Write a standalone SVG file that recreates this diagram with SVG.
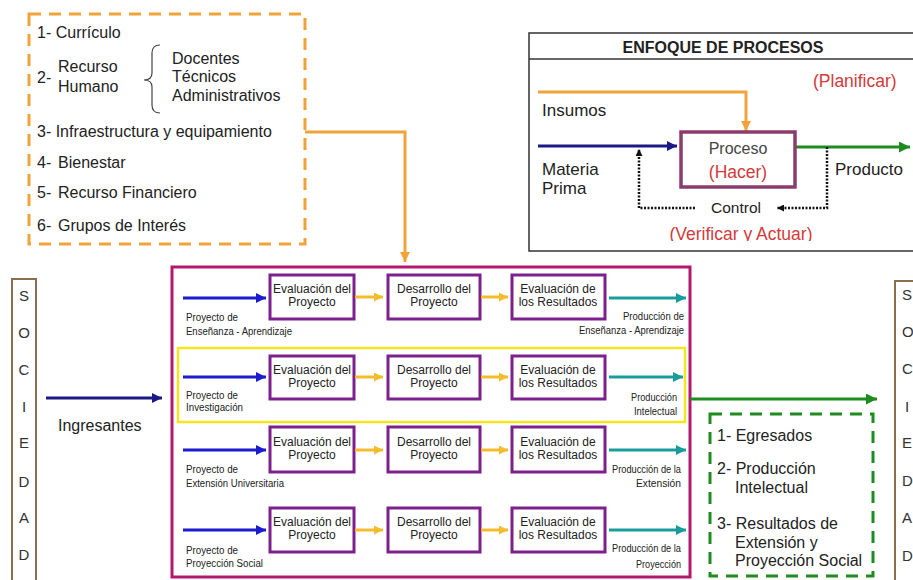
<svg xmlns="http://www.w3.org/2000/svg" width="913" height="580" viewBox="0 0 913 580">
<defs>
<style>
text{font-family:"Liberation Sans",Arial,sans-serif;fill:#222}
.l16{font-size:16px}
.l17{font-size:17px}
.red{fill:#D23A3A;font-size:17.5px}
.bx{font-size:12px;text-anchor:middle}
.sm{font-size:10px}
.smr{font-size:10px;text-anchor:end}
.let{font-size:15px;fill:#333}
.pbox{fill:#fff;stroke:#7E1F8E;stroke-width:3}
.ln{fill:none;stroke-width:3}
.dot{fill:none;stroke:#111;stroke-width:2.5;stroke-dasharray:2 1.5}
</style>
<marker id="mOr" viewBox="0 0 10 10" refX="10" refY="5" markerWidth="10" markerHeight="11" markerUnits="userSpaceOnUse" orient="auto"><path d="M0,0 L10,5 L0,10 z" fill="#F2A23A"/></marker>
<marker id="mGold" viewBox="0 0 10 10" refX="10" refY="5" markerWidth="9" markerHeight="9" markerUnits="userSpaceOnUse" orient="auto"><path d="M0,0 L10,5 L0,10 z" fill="#F4BC2C"/></marker>
<marker id="mBlue" viewBox="0 0 10 10" refX="10" refY="5" markerWidth="10" markerHeight="10" markerUnits="userSpaceOnUse" orient="auto"><path d="M0,0 L10,5 L0,10 z" fill="#1B1BD0"/></marker>
<marker id="mNavy" viewBox="0 0 10 10" refX="10" refY="5" markerWidth="10" markerHeight="10" markerUnits="userSpaceOnUse" orient="auto"><path d="M0,0 L10,5 L0,10 z" fill="#1A1A86"/></marker>
<marker id="mTeal" viewBox="0 0 10 10" refX="10" refY="5" markerWidth="10" markerHeight="10" markerUnits="userSpaceOnUse" orient="auto"><path d="M0,0 L10,5 L0,10 z" fill="#1A9C9C"/></marker>
<marker id="mGreen" viewBox="0 0 10 10" refX="10" refY="5" markerWidth="11" markerHeight="11" markerUnits="userSpaceOnUse" orient="auto"><path d="M0,0 L10,5 L0,10 z" fill="#1E8C1E"/></marker>
<marker id="mBlk" viewBox="0 0 10 10" refX="10" refY="5" markerWidth="7" markerHeight="7" markerUnits="userSpaceOnUse" orient="auto"><path d="M0,0 L10,5 L0,10 z" fill="#111"/></marker>
<clipPath id="clipV"><rect x="600" y="220" width="300" height="21"/></clipPath>
</defs>
<rect width="913" height="580" fill="#fff"/>

<!-- Recursos (insumos) box -->
<g id="insumos">
<rect x="29" y="14" width="276" height="230" fill="none" stroke="#F2A23A" stroke-width="3" stroke-dasharray="12 8"/>
<text class="l16" x="37" y="38">1- Currículo</text>
<text class="l16" x="37" y="83">2-</text>
<text class="l16" x="58" y="72">Recurso</text>
<text class="l16" x="58" y="92">Humano</text>
<path d="M160,45 Q152,45 152,53 L152,73 Q152,80 144,80 Q152,80 152,87 L152,105 Q152,113 160,113" fill="none" stroke="#444" stroke-width="1.2"/>
<text class="l16" x="172" y="64">Docentes</text>
<text class="l16" x="172" y="82">Técnicos</text>
<text class="l16" x="172" y="101">Administrativos</text>
<text class="l16" x="37" y="137">3- Infraestructura y equipamiento</text>
<text class="l16" x="37" y="168">4-<tspan x="58">Bienestar</tspan></text>
<text class="l16" x="37" y="198">5-<tspan x="58">Recurso Financiero</tspan></text>
<text class="l16" x="37" y="231">6-<tspan x="58">Grupos de Interés</tspan></text>
</g>

<!-- Enfoque de procesos -->
<g id="enfoque">
<rect x="529" y="33" width="392" height="218" fill="#fff" stroke="#333" stroke-width="1.5"/>
<line x1="529" y1="59" x2="913" y2="59" stroke="#333" stroke-width="1.5"/>
<text x="723" y="53" text-anchor="middle" style="font-size:16px;font-weight:bold">ENFOQUE DE PROCESOS</text>
<text class="red" x="813" y="87">(Planificar)</text>
<text class="l17" x="542" y="116">Insumos</text>
<text class="l17" x="542" y="175">Materia</text>
<text class="l17" x="542" y="194">Prima</text>
<text class="l17" x="835" y="175">Producto</text>
<path d="M538,92 L746,92 L746,131" class="ln" stroke="#F2A23A" marker-end="url(#mOr)"/>
<path d="M538,146 L677,146" class="ln" stroke="#1A1A86" marker-end="url(#mNavy)"/>
<path d="M795,147 L910,147" class="ln" stroke="#1E8C1E" marker-end="url(#mGreen)"/>
<rect x="681" y="132" width="114" height="55" fill="#fff" stroke="#8A3C6C" stroke-width="3.5"/>
<text x="738" y="154" text-anchor="middle" style="fill:#444;font-size:16px">Proceso</text>
<text class="red" x="738" y="178" text-anchor="middle">(Hacer)</text>
<path d="M827,147 L827,208 L777,208" class="dot" marker-end="url(#mBlk)"/>
<path d="M695,208 L639,208 L639,149" class="dot" marker-end="url(#mBlk)"/>
<text x="736" y="213" text-anchor="middle" style="font-size:15.5px">Control</text>
<text class="red" x="741" y="240" text-anchor="middle" clip-path="url(#clipV)">(Verificar y Actuar)</text>
</g>

<!-- Sociedad left -->
<g id="sociedad-izq">
<rect x="12" y="279" width="24" height="310" fill="none" stroke="#8B6E4E" stroke-width="2"/>
<g text-anchor="middle">
<text class="let" x="24" y="301">S</text>
<text class="let" x="24" y="338">O</text>
<text class="let" x="24" y="375">C</text>
<text class="let" x="24" y="412">I</text>
<text class="let" x="24" y="448">E</text>
<text class="let" x="24" y="487">D</text>
<text class="let" x="24" y="523">A</text>
<text class="let" x="24" y="560">D</text>
</g>
</g>

<!-- Sociedad right -->
<g id="sociedad-der">
<rect x="895" y="281" width="30" height="310" fill="none" stroke="#8B6E4E" stroke-width="2"/>
<text class="let" x="902" y="300">S</text>
<text class="let" x="902" y="337">O</text>
<text class="let" x="902" y="374">C</text>
<text class="let" x="905" y="412">I</text>
<text class="let" x="902" y="448">E</text>
<text class="let" x="902" y="486">D</text>
<text class="let" x="902" y="523">A</text>
<text class="let" x="902" y="561">D</text>
</g>

<!-- Central process box -->
<g id="universidad">
<rect x="172" y="267" width="518" height="310" fill="#fff" stroke="#B3186C" stroke-width="3"/>
<rect x="178" y="348" width="507" height="74" fill="none" stroke="#F4E51E" stroke-width="2.5"/>
</g>

<g id="fila1">
<rect class="pbox" x="270" y="275" width="84" height="44"/>
<text class="bx" x="312" y="293">Evaluación del</text><text class="bx" x="312" y="306">Proyecto</text>
<rect class="pbox" x="388" y="275" width="92" height="44"/>
<text class="bx" x="434" y="293">Desarrollo del</text><text class="bx" x="434" y="306">Proyecto</text>
<rect class="pbox" x="512" y="275" width="93" height="44"/>
<text class="bx" x="558" y="293">Evaluación de</text><text class="bx" x="558" y="306">los Resultados</text>
<text class="sm" x="186" y="321" textLength="52" lengthAdjust="spacingAndGlyphs">Proyecto de</text>
<text class="sm" x="186" y="335" textLength="106" lengthAdjust="spacingAndGlyphs">Enseñanza - Aprendizaje</text>
<text class="smr" x="684" y="320" textLength="61" lengthAdjust="spacingAndGlyphs">Producción de</text>
<text class="smr" x="684" y="334" textLength="105" lengthAdjust="spacingAndGlyphs">Enseñanza - Aprendizaje</text>
</g>

<g id="fila2">
<rect class="pbox" x="270" y="356" width="84" height="43"/>
<text class="bx" x="312" y="374">Evaluación del</text><text class="bx" x="312" y="387">Proyecto</text>
<rect class="pbox" x="388" y="356" width="92" height="43"/>
<text class="bx" x="434" y="374">Desarrollo del</text><text class="bx" x="434" y="387">Proyecto</text>
<rect class="pbox" x="512" y="356" width="93" height="43"/>
<text class="bx" x="558" y="374">Evaluación de</text><text class="bx" x="558" y="387">los Resultados</text>
<text class="sm" x="186" y="399" textLength="52" lengthAdjust="spacingAndGlyphs">Proyecto de</text>
<text class="sm" x="186" y="411" textLength="57" lengthAdjust="spacingAndGlyphs">Investigación</text>
<text class="smr" x="677" y="401" textLength="46" lengthAdjust="spacingAndGlyphs">Producción</text>
<text class="smr" x="677" y="415" textLength="43" lengthAdjust="spacingAndGlyphs">Intelectual</text>
</g>

<g id="fila3">
<rect class="pbox" x="270" y="427" width="84" height="45"/>
<text class="bx" x="312" y="446">Evaluación del</text><text class="bx" x="312" y="459">Proyecto</text>
<rect class="pbox" x="388" y="427" width="92" height="45"/>
<text class="bx" x="434" y="446">Desarrollo del</text><text class="bx" x="434" y="459">Proyecto</text>
<rect class="pbox" x="512" y="427" width="93" height="45"/>
<text class="bx" x="558" y="446">Evaluación de</text><text class="bx" x="558" y="459">los Resultados</text>
<text class="sm" x="186" y="473" textLength="52" lengthAdjust="spacingAndGlyphs">Proyecto de</text>
<text class="sm" x="186" y="487" textLength="98" lengthAdjust="spacingAndGlyphs">Extensión Universitaria</text>
<text class="smr" x="681" y="473" textLength="69" lengthAdjust="spacingAndGlyphs">Producción de la</text>
<text class="smr" x="681" y="487" textLength="45" lengthAdjust="spacingAndGlyphs">Extensión</text>
</g>

<g id="fila4">
<rect class="pbox" x="270" y="508" width="84" height="44"/>
<text class="bx" x="312" y="526">Evaluación del</text><text class="bx" x="312" y="539">Proyecto</text>
<rect class="pbox" x="388" y="508" width="92" height="44"/>
<text class="bx" x="434" y="526">Desarrollo del</text><text class="bx" x="434" y="539">Proyecto</text>
<rect class="pbox" x="512" y="508" width="93" height="44"/>
<text class="bx" x="558" y="526">Evaluación de</text><text class="bx" x="558" y="539">los Resultados</text>
<text class="sm" x="186" y="554" textLength="52" lengthAdjust="spacingAndGlyphs">Proyecto de</text>
<text class="sm" x="186" y="567" textLength="77" lengthAdjust="spacingAndGlyphs">Proyección Social</text>
<text class="smr" x="681" y="552" textLength="69" lengthAdjust="spacingAndGlyphs">Producción de la</text>
<text class="smr" x="681" y="568" textLength="45" lengthAdjust="spacingAndGlyphs">Proyección</text>
</g>

<!-- Resultados box -->
<g id="resultados">
<rect x="710" y="414" width="163" height="162" fill="none" stroke="#1E8C1E" stroke-width="3" stroke-dasharray="12 8"/>
<text class="l16" x="717" y="441">1- Egresados</text>
<text class="l16" x="717" y="474">2- Producción</text>
<text class="l16" x="735" y="493">Intelectual</text>
<text class="l16" x="717" y="529">3- Resultados de</text>
<text class="l16" x="735" y="548">Extensión y</text>
<text class="l16" x="735" y="566">Proyección Social</text>
</g>

<g id="ingresantes-label">
<text class="l16" x="58" y="431">Ingresantes</text>
</g>

<!-- Connectors -->
<g id="connectors">
<path d="M305,132 L405,132 L405,262" class="ln" stroke="#F2A23A" marker-end="url(#mOr)"/>
<path d="M46,398 L162,398" class="ln" stroke="#1A1A86" marker-end="url(#mNavy)"/>
<path d="M690,399 L877,399" class="ln" stroke="#1E8C1E" marker-end="url(#mGreen)"/>
<path d="M183,298 L266,298" class="ln" stroke="#1B1BD0" marker-end="url(#mBlue)"/>
<path d="M183,377 L266,377" class="ln" stroke="#1B1BD0" marker-end="url(#mBlue)"/>
<path d="M183,450 L266,450" class="ln" stroke="#1B1BD0" marker-end="url(#mBlue)"/>
<path d="M183,530 L266,530" class="ln" stroke="#1B1BD0" marker-end="url(#mBlue)"/>
<path d="M355,297 L383,297" class="ln" stroke="#F4BC2C" marker-end="url(#mGold)"/>
<path d="M481,297 L508,297" class="ln" stroke="#F4BC2C" marker-end="url(#mGold)"/>
<path d="M355,377 L383,377" class="ln" stroke="#F4BC2C" marker-end="url(#mGold)"/>
<path d="M481,377 L508,377" class="ln" stroke="#F4BC2C" marker-end="url(#mGold)"/>
<path d="M355,450 L383,450" class="ln" stroke="#F4BC2C" marker-end="url(#mGold)"/>
<path d="M481,450 L508,450" class="ln" stroke="#F4BC2C" marker-end="url(#mGold)"/>
<path d="M355,530 L383,530" class="ln" stroke="#F4BC2C" marker-end="url(#mGold)"/>
<path d="M481,530 L508,530" class="ln" stroke="#F4BC2C" marker-end="url(#mGold)"/>
<path d="M609,298 L686,298" class="ln" stroke="#1A9C9C" marker-end="url(#mTeal)"/>
<path d="M609,377 L683,377" class="ln" stroke="#1A9C9C" marker-end="url(#mTeal)"/>
<path d="M609,450 L686,450" class="ln" stroke="#1A9C9C" marker-end="url(#mTeal)"/>
<path d="M609,530 L686,530" class="ln" stroke="#1A9C9C" marker-end="url(#mTeal)"/>
</g>
</svg>
